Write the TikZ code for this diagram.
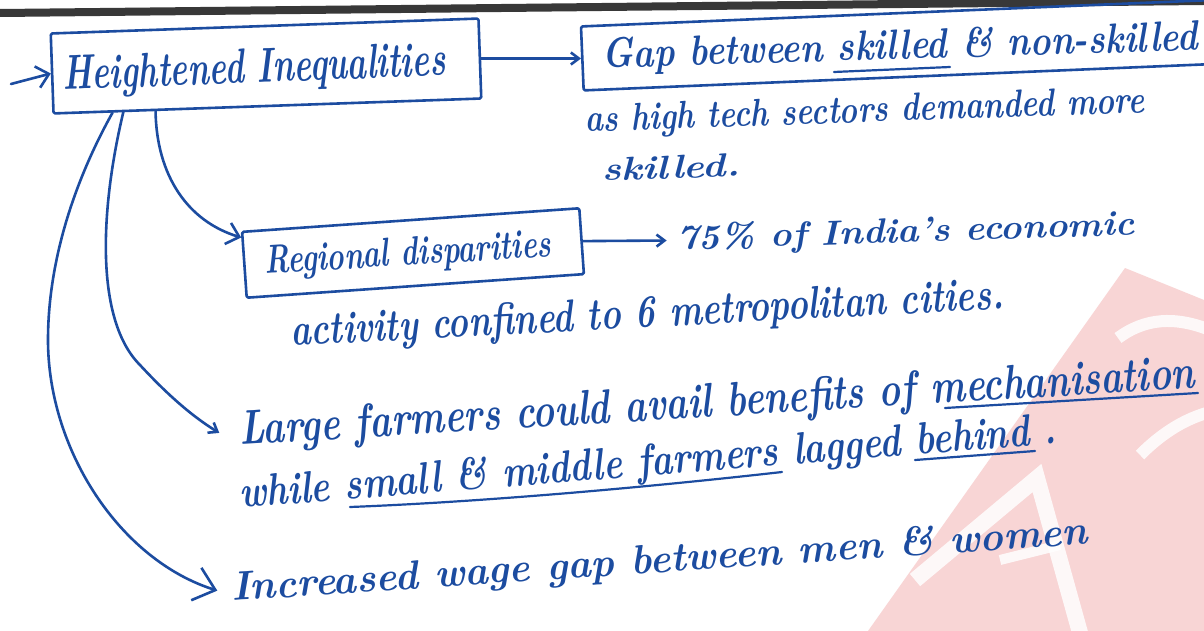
\documentclass[tikz,border=0pt]{standalone}
\usepackage{graphicx}
\usetikzlibrary{arrows.meta,calc}
\definecolor{ink}{RGB}{28,76,160}
\definecolor{wmpink}{RGB}{242,172,172}
% one handwritten line, stretched to a given width and ascender height (in pt)
\newcommand{\handline}[3]{\resizebox{#1pt}{#2pt}{\bfseries\itshape #3}}

\begin{document}
\begin{tikzpicture}[x=1pt,y=-1pt,
  pen/.style={draw=ink,line width=2.6pt,line cap=round,line join=round},
  hbox/.style={pen,inner sep=0pt,rounded corners=1.5pt},
  txt/.style={text=ink,inner sep=0pt,anchor=base west},
  tipS/.style={-{Straight Barb[length=8pt,width=12pt]}},
  tipM/.style={-{Straight Barb[length=12pt,width=22pt]}},
  tipL/.style={-{Straight Barb[length=20pt,width=34pt]}},
  uline/.style={pen,line width=2.2pt}]
\clip (0,0) rectangle (1204,631);
\fill[white] (0,0) rectangle (1204,631);

% faded logo in the lower right corner
\fill[wmpink,opacity=.5] (868,631) -- (1125,268) -- (1204,300) -- (1204,631) -- cycle;
\draw[white,line width=16pt,opacity=.85] (915,580) -- (1037,478) -- (1082,640);
\draw[white,line width=10pt,opacity=.85] (1000,560) -- (1060,545);
\draw[white,line width=12pt,opacity=.85] (1118,338) .. controls (1145,318) and (1175,316) .. (1210,330);
\draw[white,line width=12pt,opacity=.85] (1140,455) .. controls (1165,430) and (1188,418) .. (1210,412);

% dark strip along the top edge
\fill[black!78] (0,9) -- (1204,-3) -- (1204,5) -- (0,17) -- cycle;

% boxes
\node[hbox,minimum width=428pt,minimum height=80pt,rotate=2] (hibox) at (266,66) {};
\node[hbox,minimum width=690pt,minimum height=64pt,rotate=2.4] (gapbox) at (927,44) {};
\node[hbox,minimum width=338pt,minimum height=66pt,rotate=4] (regbox) at (413,253) {};

% text lines
\node[txt,rotate=2.2] (hi) at (63,90) {\handline{383}{34}{Heightened Inequalities}};
\node[txt,rotate=1.7] (gap) at (602,68) {\handline{596}{30}{Gap between skilled \& non-skilled}};
\node[txt,rotate=2] (gap2) at (585,132) {\handline{560}{27}{as high tech sectors demanded more}};
\node[txt,rotate=2] (gap3) at (602,181) {\handline{138}{23}{skilled.}};
\node[txt,rotate=3.5] (reg) at (265,274) {\handline{287}{28}{Regional disparities}};
\node[txt,rotate=1.9] (eco) at (677,250) {\handline{458}{26}{75\% of India's economic}};
\node[txt,rotate=3] (eco2) at (291,346) {\handline{714}{32}{activity confined to 6 metropolitan cities.}};
\node[txt,rotate=3.4] (large) at (240,445) {\handline{957}{34}{Large farmers could avail benefits of mechanisation}};
\node[txt,rotate=4.5] (small) at (240,508) {\handline{820}{32}{while small \& middle farmers lagged behind .}};
\node[txt,rotate=3.8] (incr) at (232,601) {\handline{858}{29}{Increased wage gap between men \& women}};

% underlines
\draw[uline] (834,72) -- (950,67);
\draw[uline] (945,408) -- (1198,393);
\draw[uline] (350,507) .. controls (480,502) and (640,488) .. (782,472);
\draw[uline] (915,460) -- (1035,451);

% connectors
\coordinate (entry) at (11,84);
\coordinate (a0) at ($(hibox.south west)!0.24!(hibox.south east)$);
\coordinate (b0) at ($(hibox.south west)!0.165!(hibox.south east)$);
\coordinate (c0) at ($(hibox.south west)!0.14!(hibox.south east)$);
\coordinate (aEnd) at ($(regbox.north west)!0.1!(regbox.south west)$);

\draw[pen,tipM] (entry) -- (hibox.west);
\draw[pen,tipS] (hibox.east) -- (gapbox.west);
\draw[pen,tipS] (regbox.east) -- ([xshift=-10pt]eco.west);
\draw[pen,tipM] (a0) .. controls +(1,65) and +(-53,-16) .. (aEnd);
\draw[pen,tipS] (b0) .. controls (100,210) and (95,320) .. (140,365)
  .. controls (165,392) and (190,415) .. ([xshift=-20pt]large.west);
\draw[pen,tipL] (c0) .. controls (75,180) and (48,260) .. (48,340)
  .. controls (48,450) and (120,560) .. ([xshift=-14pt]incr.west);
\end{tikzpicture}
\end{document}
